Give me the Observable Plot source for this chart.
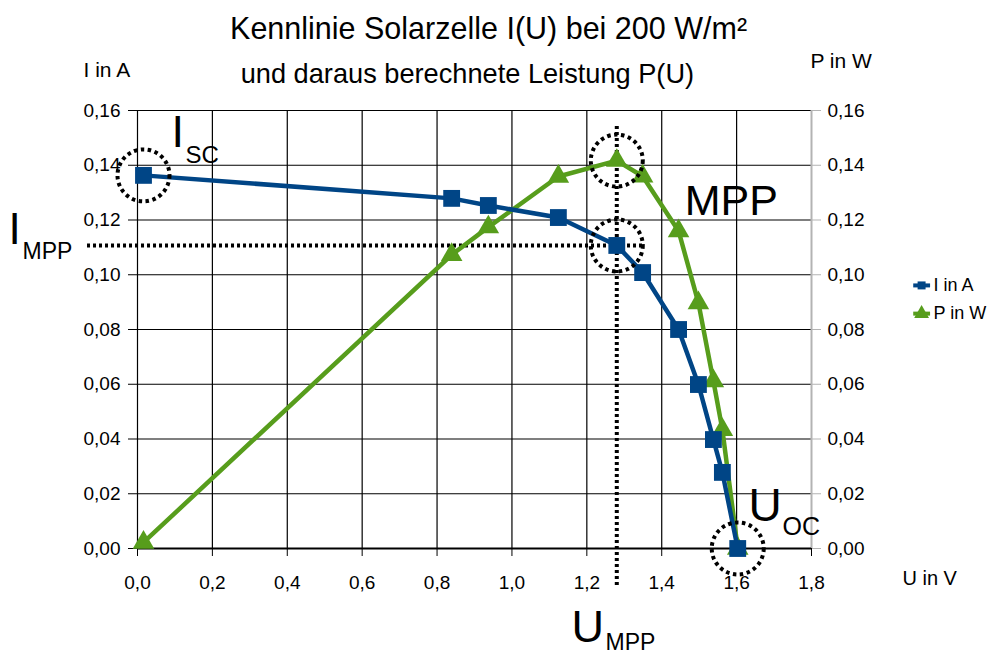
<!DOCTYPE html>
<html><head><meta charset="utf-8">
<script src="https://cdn.jsdelivr.net/npm/d3@7"></script>
<script src="https://cdn.jsdelivr.net/npm/@observablehq/plot@0.6"></script>
<style>body{margin:0;background:#fff;overflow:hidden}</style>
</head><body><div id="chart"></div>
<script>
// ---- data ----
const voltage = [0.016, 0.839, 0.937, 1.124, 1.28, 1.349, 1.445, 1.498, 1.538, 1.562, 1.603];
const current = [0.1363, 0.1279, 0.1253, 0.1209, 0.1107, 0.1008, 0.0800, 0.0599, 0.0398, 0.0278, 0.0];
const power   = [0.0022, 0.1073, 0.1174, 0.1359, 0.1417, 0.1360, 0.1160, 0.0897, 0.0612, 0.0434, 0.0];
const seriesNames = ["I in A", "P in W"];
const seriesColors = ["#004586", "#579d1c"];
const xTicks = [0, 0.2, 0.4, 0.6, 0.8, 1.0, 1.2, 1.4, 1.6, 1.8];
const yTicks = [0, 0.02, 0.04, 0.06, 0.08, 0.10, 0.12, 0.14, 0.16];
const mppIndex = 4;

const fmtY = d => d.toFixed(2).replace(".", ",");
const fmtX = d => d.toFixed(1).replace(".", ",");
const rows = voltage.map((u, k) => ({u, i: current[k], p: power[k]}));
const uMPP = voltage[mppIndex], iMPP = current[mppIndex], pMPP = power[mppIndex];
const FONT = "Liberation Sans, Arial, sans-serif";

// annotation texts (positions in data units)
const labelsMiddle = [
  {x: 0.9375, y: 0.1863, text: "Kennlinie Solarzelle I(U) bei 200 W/m²", size: 30.5},
  {x: 0.881, y: 0.1702, text: "und daraus berechnete Leistung P(U)", size: 27.2}
];
const labelsStart = [
  {x: -0.1442, y: 0.1721, text: "I in A", size: 21},
  {x: 1.797, y: 0.1757, text: "P in W", size: 21},
  {x: 2.043, y: -0.0135, text: "U in V", size: 20},
  {x: 0.0908, y: 0.1465, text: "I", size: 45},
  {x: 0.1282, y: 0.1410, text: "SC", size: 24},
  {x: 1.4614, y: 0.1220, text: "MPP", size: 43},
  {x: -0.3445, y: 0.1114, text: "I", size: 44},
  {x: -0.3071, y: 0.1059, text: "MPP", size: 23},
  {x: 1.6317, y: 0.0102, text: "U", size: 46},
  {x: 1.7226, y: 0.00475, text: "OC", size: 25},
  {x: 1.159, y: -0.0343, text: "U", size: 45},
  {x: 1.2499, y: -0.0369, text: "MPP", size: 23}
];
const legend = [
  {name: seriesNames[0], color: seriesColors[0], symbol: "square", r: 4.5, y: 0.0961},
  {name: seriesNames[1], color: seriesColors[1], symbol: "triangle", r: 5.5, y: 0.0858}
];
const legendX1 = 2.073, legendX2 = 2.118, legendXm = 2.094, legendText = 2.126;

const circles = [
  {x: voltage[0], y: current[0]},
  {x: uMPP, y: pMPP},
  {x: uMPP, y: iMPP},
  {x: voltage[voltage.length - 1], y: current[current.length - 1]}
];

const marks = [
  Plot.gridY(yTicks, {stroke: "black", strokeOpacity: 1, strokeWidth: 1.2}),
  Plot.gridX(xTicks.slice(0, -1), {stroke: "black", strokeOpacity: 1, strokeWidth: 1.2}),
  Plot.ruleX([1.8], {stroke: "#b3b3b3", strokeWidth: 2}),
  Plot.ruleY([0], {stroke: "black", strokeWidth: 2}),
  Plot.axisY(yTicks, {anchor: "left", tickSize: 9, tickPadding: 8, tickFormat: fmtY, stroke: "black", fill: "black", fontSize: 19, label: null}),
  Plot.axisY(yTicks, {anchor: "right", tickSize: 9, tickPadding: 7, tickFormat: fmtY, stroke: "#b3b3b3", fill: "black", fontSize: 19, label: null}),
  Plot.axisX(xTicks, {anchor: "bottom", tickSize: 8, tickPadding: 19, tickFormat: fmtX, stroke: "black", fill: "black", fontSize: 19, label: null}),
  // MPP guide lines
  Plot.ruleY([{y: iMPP, x1: -0.1335, x2: 1.352}], {y: "y", x1: "x1", x2: "x2", stroke: "black", strokeWidth: 4, strokeDasharray: "3 3"}),
  Plot.ruleX([{x: uMPP, y1: -0.0135, y2: 0.1545}], {x: "x", y1: "y1", y2: "y2", stroke: "black", strokeWidth: 4, strokeDasharray: "3 3"}),
  // P series
  Plot.line(rows, {x: "u", y: "p", stroke: seriesColors[1], strokeWidth: 4.5}),
  Plot.dot(rows, {x: "u", y: "p", symbol: "triangle", r: 8, fill: seriesColors[1], stroke: "none"}),
  // I series
  Plot.line(rows, {x: "u", y: "i", stroke: seriesColors[0], strokeWidth: 4.5}),
  Plot.dot(rows, {x: "u", y: "i", symbol: "square", r: 9.5, fill: seriesColors[0], stroke: "none"}),
  // dotted circles
  Plot.dot(circles, {x: "x", y: "y", r: 26, fill: "none", stroke: "black", strokeWidth: 4, strokeDasharray: "3.5 3.5"}),
  // texts
  ...labelsMiddle.map(a => Plot.text([a], {x: "x", y: "y", text: "text", fontSize: a.size, textAnchor: "middle", lineAnchor: "bottom", fill: "black"})),
  ...labelsStart.map(a => Plot.text([a], {x: "x", y: "y", text: "text", fontSize: a.size, textAnchor: "start", lineAnchor: "bottom", fill: "black"})),
  // legend
  Plot.ruleY(legend, {y: "y", x1: legendX1, x2: legendX2, stroke: "color", strokeWidth: 4}),
  ...legend.map(l => Plot.dot([l], {x: legendXm, y: "y", symbol: l.symbol, r: l.r, fill: l.color, stroke: "none"})),
  Plot.text(legend, {x: legendText, y: "y", text: "name", textAnchor: "start", fontSize: 18, fill: "black"})
];

const chart = Plot.plot({
  width: 991,
  height: 655,
  marginLeft: 137,
  marginRight: 180,
  marginTop: 110,
  marginBottom: 107,
  x: {domain: [0, 1.8], axis: null},
  y: {domain: [0, 0.16], axis: null},
  color: {type: "identity"},
  style: {fontFamily: FONT, fontSize: "19px", color: "black", background: "white", overflow: "visible"},
  marks
});
document.getElementById("chart").appendChild(chart);
</script>
</body></html>
